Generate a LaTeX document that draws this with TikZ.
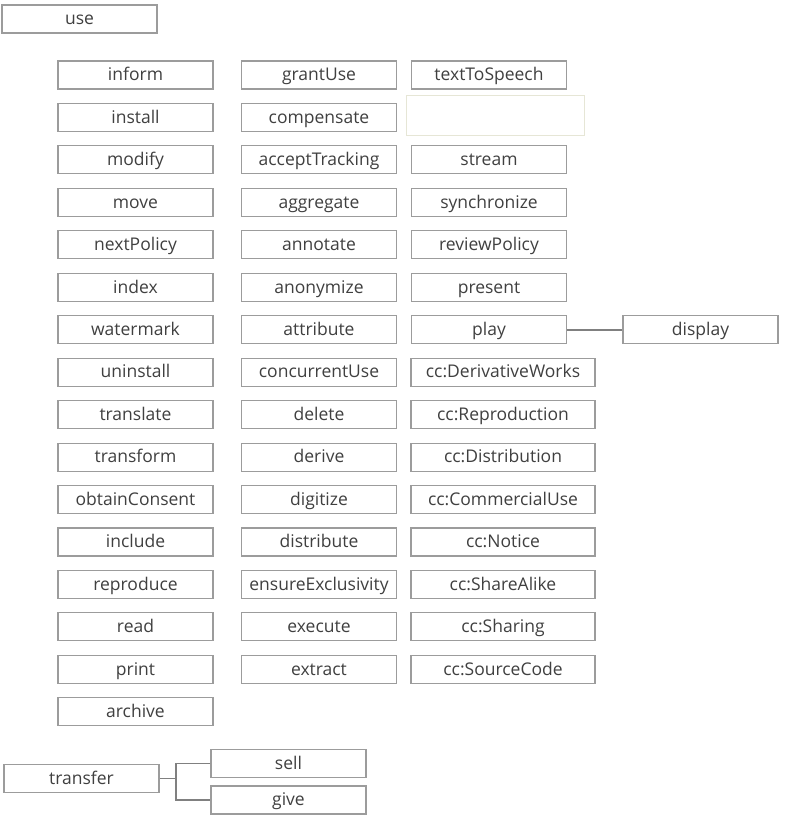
\documentclass[tikz,border=0pt]{standalone}
\usepackage{fontspec}
\setmainfont{Open Sans}
\definecolor{boxline}{HTML}{9C9C9C}
\definecolor{boxtext}{HTML}{404040}
\definecolor{wire}{HTML}{808080}
\definecolor{paleline}{HTML}{E6E6D6}
\begin{document}
\begin{tikzpicture}[x=1pt,y=-1pt,
  actbox/.style={draw=boxline,line width=1.1pt,fill=white,minimum width=155pt,minimum height=28pt,
    inner sep=0pt,text=boxtext,font=\fontsize{17.5}{21}\selectfont,text height=13.5pt,text depth=2pt},
  widebox/.style={actbox,minimum width=184pt},
  emptybox/.style={draw=paleline,line width=1pt,minimum width=178pt,minimum height=40pt,inner sep=0pt},
  wireline/.style={draw=wire,line width=1.6pt}]
\useasboundingbox (0,0) rectangle (800,834);
\node[actbox] (use) at (79.5,19) {use};
% column 1
\foreach \t [count=\i from 0] in {inform,install,modify,move,nextPolicy,index,watermark,uninstall,translate,transform,obtainConsent,include,reproduce,read,print,archive}
  \node[actbox] (a\i) at (135.5,{75+42.45*\i}) {\t};
% column 2
\foreach \t [count=\i from 0] in {grantUse,compensate,acceptTracking,aggregate,annotate,anonymize,attribute,concurrentUse,delete,derive,digitize,distribute,ensureExclusivity,execute,extract}
  \node[actbox] (b\i) at (319,{75+42.45*\i}) {\t};
% column 3
\foreach \t/\i in {textToSpeech/0,stream/2,synchronize/3,reviewPolicy/4,present/5}
  \node[actbox] (c\i) at (489,{75+42.45*\i}) {\t};
\node[emptybox] (c1) at (495,116) {};
\node[actbox] (play) at (489,{75+42.45*6}) {play};
\node[actbox] (display) at (700.5,{75+42.45*6}) {display};
\foreach \t [count=\i from 7] in {cc:DerivativeWorks,cc:Reproduction,cc:Distribution,cc:CommercialUse,cc:Notice,cc:ShareAlike,cc:Sharing,cc:SourceCode}
  \node[widebox] (c\i) at (503,{75+42.45*\i}) {\t};
\draw[wireline] (play) -- (display);
% transfer
\node[actbox] (transfer) at (81.5,778.5) {transfer};
\node[actbox] (sell) at (288.5,763.5) {sell};
\node[actbox] (give) at (288.5,800) {give};
\coordinate (fork) at (176,778.5);
\draw[wireline] (transfer.east) -- (fork);
\draw[wireline] (sell.west) -| (fork) |- (give.west);
\end{tikzpicture}
\end{document}
